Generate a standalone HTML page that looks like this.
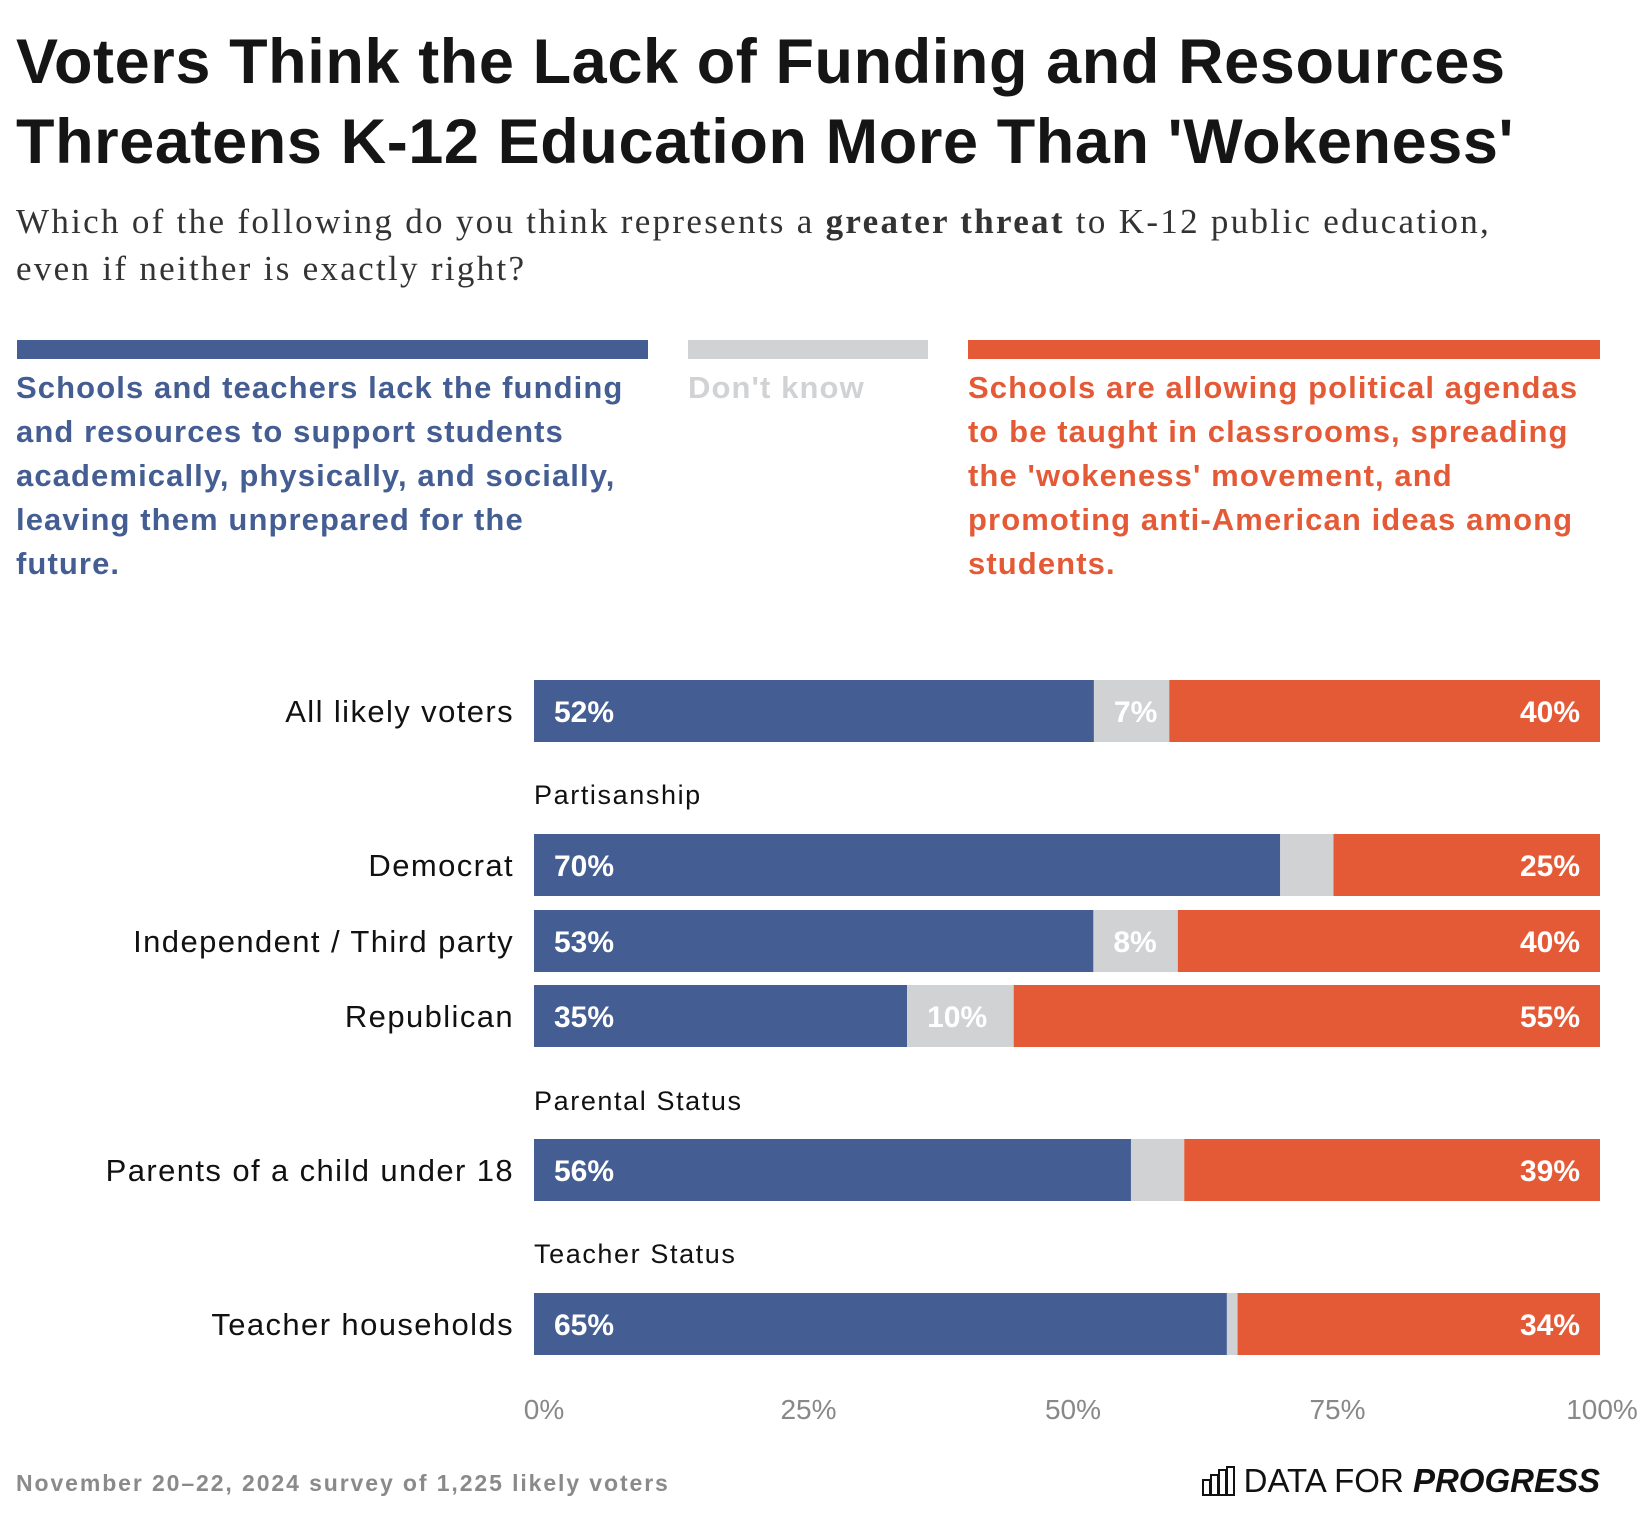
<!DOCTYPE html>
<html><head><meta charset="utf-8"><style>
body{margin:0;background:#fff;width:1640px;height:1516px;overflow:hidden;position:relative;font-family:"Liberation Sans",sans-serif}
.t{position:absolute;white-space:nowrap}
h1{position:absolute;left:16px;top:22px;margin:0;font-size:63px;line-height:80px;font-weight:bold;color:#151515;letter-spacing:0.6px}
.sub{position:absolute;left:16px;top:198px;font-family:"Liberation Serif",serif;font-size:35px;line-height:47px;color:#333;letter-spacing:2.3px;white-space:nowrap}
.leg{position:absolute;top:366px;font-size:31px;line-height:44px;font-weight:bold;letter-spacing:1.1px;white-space:nowrap}
</style></head><body>
<h1>Voters Think the Lack of Funding and Resources<br>Threatens K-12 Education More Than 'Wokeness'</h1>
<div class="sub">Which of the following do you think represents a <b>greater threat</b> to K-12 public education,<br>even if neither is exactly right?</div>
<div class="t" style="left:17px;top:340px;width:631px;height:19px;background:#445E93"></div>
<div class="t" style="left:688px;top:340px;width:240px;height:19px;background:#D1D2D4"></div>
<div class="t" style="left:968px;top:340px;width:632px;height:19px;background:#E55A36"></div>
<div class="leg" style="left:16px;color:#445E93">Schools and teachers lack the funding<br>and resources to support students<br>academically, physically, and socially,<br>leaving them unprepared for the<br>future.</div>
<div class="leg" style="left:688px;color:#D1D2D4">Don't know</div>
<div class="leg" style="left:968px;color:#E55A36">Schools are allowing political agendas<br>to be taught in classrooms, spreading<br>the 'wokeness' movement, and<br>promoting anti-American ideas among<br>students.</div>
<svg id="chart" width="1640" height="1516" style="position:absolute;left:0;top:0"></svg>
<div class="t" style="left:16px;top:1470px;font-size:23px;font-weight:bold;color:#8a8a8a;letter-spacing:1.9px">November 20–22, 2024 survey of 1,225 likely voters</div>
<div class="t" style="right:40px;top:1462px;font-size:33px;color:#111;display:flex;align-items:center">
<svg width="34" height="30" style="margin-right:8px"><g fill="none" stroke="#111" stroke-width="2"><rect x="1" y="14" width="7" height="15"/><rect x="9" y="9" width="7" height="20"/><rect x="17" y="4" width="7" height="25"/><rect x="25" y="1" width="7" height="28"/></g></svg>
<span>DATA FOR&nbsp;</span><b><i>PROGRESS</i></b></div>
<script>
const categories=["All likely voters","Democrat","Independent / Third party","Republican","Parents of a child under 18","Teacher households"];
const fundingValues=[52,70,53,35,56,65];
const dontKnowValues=[7,5,8,10,5,1];
const wokenessValues=[40,25,40,55,39,34];
const rowTops=[680,834,910,985,1139,1293];
const groupLabels=["Partisanship","Parental Status","Teacher Status"];
const groupTops=[778,1084,1237];
const tickValues=[0,25,50,75,100];
const tickLabels=["0%","25%","50%","75%","100%"];
const svg=document.getElementById('chart');
const NS='http://www.w3.org/2000/svg';
const X0=534,X1=1600,BH=62;
const xs=p=>X0+(X1-X0)*p/100;
function mk(tag,attrs){const e=document.createElementNS(NS,tag);for(const k in attrs)e.setAttribute(k,attrs[k]);svg.appendChild(e);return e;}
const colors=["#445E93","#D1D2D4","#E55A36"];
const names=["funding","dont-know","wokeness"];
categories.forEach((c,i)=>{
  const vals=[fundingValues[i],dontKnowValues[i],wokenessValues[i]];
  const tot=vals[0]+vals[1]+vals[2];
  const y=rowTops[i];
  const lab=mk('text',{x:514,y:y+BH/2+11,'text-anchor':'end','font-size':31,'letter-spacing':1.4,fill:'#111','font-family':'Liberation Sans'});
  lab.textContent=c;
  
  
  let cum=0;
  vals.forEach((v,j)=>{
    const a=xs(cum/tot*100),b=xs((cum+v)/tot*100);cum+=v;
    const r=mk('rect',{x:a,y:y,width:b-a,height:BH,fill:colors[j]});
    
    
    if(j!==1||v>=7){
      const t=mk('text',{x:j===2?b-20:a+20,y:y+BH/2+11,'text-anchor':j===2?'end':'start','font-size':30,'font-weight':'bold',fill:'#fff','font-family':'Liberation Sans'});
      t.textContent=v+'%';
      
      
    }
  });
});
groupLabels.forEach((g,i)=>{
  const t=mk('text',{x:X0,y:groupTops[i]+26,'font-size':27,'letter-spacing':1.6,fill:'#111','font-family':'Liberation Sans'});
  t.textContent=g;
  
  
});
tickValues.forEach((v,i)=>{
  const t=mk('text',{x:xs(v)+10*(1-v/100)+2*(v/100),y:1419,'text-anchor':'middle','font-size':28,fill:'#888','font-family':'Liberation Sans'});
  t.textContent=tickLabels[i];
  
  
});
</script>
</body></html>
